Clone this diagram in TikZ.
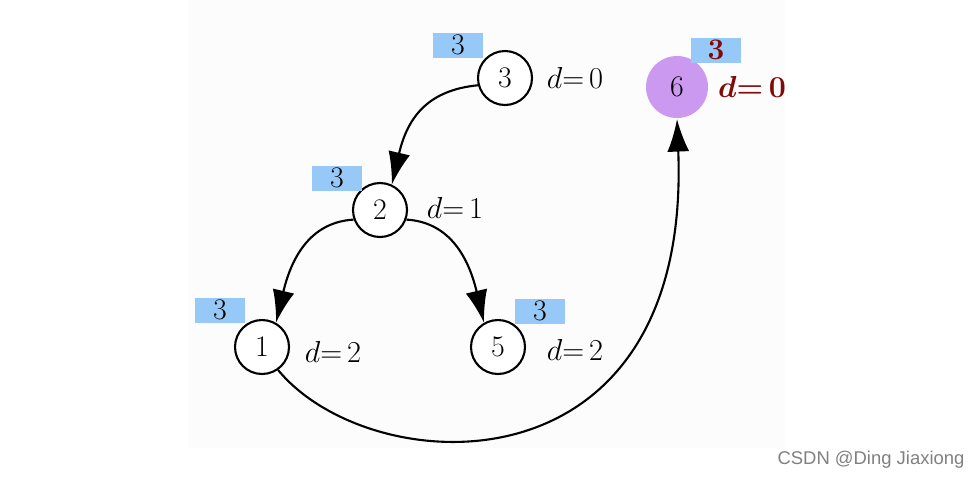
\documentclass[tikz,border=0pt]{standalone}
\usepackage{fontspec}
\newfontfamily\wmfont{Liberation Sans}
\usetikzlibrary{arrows.meta}
\definecolor{keyblue}{RGB}{150,201,248}
\definecolor{rootpurple}{RGB}{204,153,240}
\definecolor{rootred}{RGB}{128,10,10}
\begin{document}
\begin{tikzpicture}[x=0.02cm,y=-0.02cm,
vertex/.style={circle, draw=black, fill=white, line width=1.2pt, minimum size=1.08cm, inner sep=0pt, font=\fontsize{17}{20}\selectfont},
keybox/.style={fill=keyblue, minimum width=1cm, minimum height=0.5cm, inner sep=0pt, font=\fontsize{17}{20}\selectfont},
dist/.style={font=\fontsize{17}{20}\selectfont},
arc/.style={line width=1.2pt, -{Latex[length=6.5mm,width=4.4mm]}}
]
\useasboundingbox (0,0) rectangle (977,478);
\fill[black!1] (188,0) rectangle (785,448);

\node [vertex] (n3) at (505,78) {3};
\node [keybox] (k3) at (458,45) {3};
\node [dist] (d3) at (575,78) {$d{=}\,0$};

\node [vertex, draw=none, fill=rootpurple, minimum size=1.24cm] (n6) at (677,87) {6};
\node [keybox, text=rootred, font=\fontsize{17}{20}\selectfont\bfseries] (k6) at (716,50) {3};
\node [dist, text=rootred, font=\fontsize{17}{20}\selectfont\boldmath] (d6) at (752,87) {$d{=}\,0$};

\node [vertex] (n2) at (380,210) {2};
\node [keybox] (k2) at (337,178) {3};
\node [dist] (d2) at (455,208) {$d{=}\,1$};

\node [vertex] (n1) at (262,347) {1};
\node [keybox] (k1) at (220,310) {3};
\node [dist] (d1) at (333,352) {$d{=}\,2$};

\node [vertex] (n5) at (498,347) {5};
\node [keybox] (k5) at (540,311) {3};
\node [dist] (d5) at (575,350) {$d{=}\,2$};

\draw [arc] (n3.195) .. controls (430,90) and (408,115) .. (n2.65);
\draw [arc] (n2.200) .. controls (312,222) and (292,255) .. (n1.60);
\draw [arc] (n2.-20) .. controls (448,222) and (468,255) .. (n5.120);
\draw [arc] (n1.-55) .. controls (370,482) and (692,500) .. (n6.south);

\node [font=\wmfont\fontsize{10.5}{12}\selectfont, text=black!50] (wm) at (871,460) {CSDN @Ding Jiaxiong};
\end{tikzpicture}
\end{document}
